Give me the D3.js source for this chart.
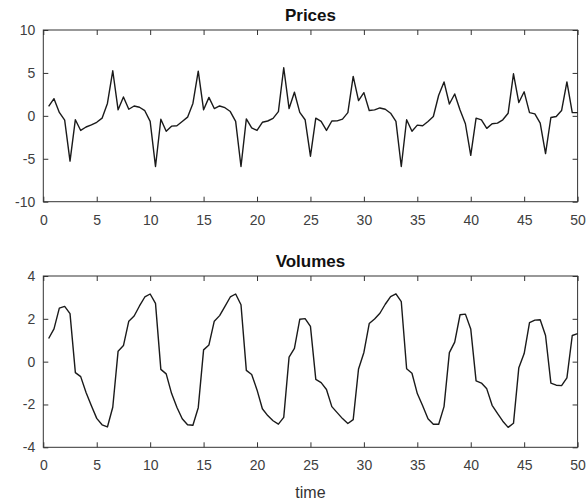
<!DOCTYPE html>
<html>
<head>
<meta charset="utf-8">
<script src="https://cdn.jsdelivr.net/npm/d3@7"></script>
<style>
  html, body { margin: 0; padding: 0; background: #fff; }
  svg { display: block; }
  .tick text { font-family: "Liberation Sans", Arial, Helvetica, sans-serif; font-size: 14px; fill: #404040; }
  .tick line { stroke: #333; }
  .title { font-family: "Liberation Sans", Arial, Helvetica, sans-serif; font-size: 17px; font-weight: bold; fill: #111; }
  .xlabel { font-family: "Liberation Sans", Arial, Helvetica, sans-serif; font-size: 16px; fill: #333; }
</style>
</head>
<body>
<svg id="chart" width="586" height="501"></svg>
<script>
// Sample times shared by both series
const time = [
  0.5, 1, 1.5, 2, 2.5, 3, 3.5, 4, 4.5, 5, 5.5, 6, 6.5, 7, 7.5, 8, 8.5, 9, 9.5, 10,
  10.5, 11, 11.5, 12, 12.5, 13, 13.5, 14, 14.5, 15, 15.5, 16, 16.5, 17, 17.5, 18, 18.5, 19, 19.5, 20,
  20.5, 21, 21.5, 22, 22.5, 23, 23.5, 24, 24.5, 25, 25.5, 26, 26.5, 27, 27.5, 28, 28.5, 29, 29.5, 30,
  30.5, 31, 31.5, 32, 32.5, 33, 33.5, 34, 34.5, 35, 35.5, 36, 36.5, 37, 37.5, 38, 38.5, 39, 39.5, 40,
  40.5, 41, 41.5, 42, 42.5, 43, 43.5, 44, 44.5, 45, 45.5, 46, 46.5, 47, 47.5, 48, 48.5, 49, 49.5, 50
];

const prices = [
  1.1, 2.0, 0.4, -0.5, -5.27, -0.45, -1.7, -1.3, -1.05, -0.75,
  -0.27, 1.45, 5.25, 0.7, 2.2, 0.77, 1.15, 1.0, 0.6, -0.65,
  -5.9, -0.4, -1.8, -1.2, -1.15, -0.65, -0.15, 1.45, 5.2, 0.7,
  2.15, 0.85, 1.15, 0.95, 0.5, -0.65, -5.9, -0.35, -1.4, -1.7,
  -0.75, -0.6, -0.3, 0.5, 5.6, 0.85, 2.75, 0.4, -0.45, -4.7,
  -0.27, -0.65, -1.7, -0.6, -0.58, -0.38, 0.38, 4.6, 1.77, 2.7,
  0.62, 0.69, 0.92, 0.77, 0.31, -0.65, -5.9, -0.45, -1.8, -1.08,
  -1.15, -0.65, -0.08, 2.4, 3.95, 1.38, 2.55, 0.69, -0.92, -4.6,
  -0.27, -0.46, -1.46, -0.92, -0.85, -0.46, 0.31, 4.9, 1.55, 2.8,
  0.38, 0.23, -0.85, -4.4, -0.19, -0.08, 0.62, 3.95, 0.38, 0.38
];

const volumes = [
  1.08, 1.53, 2.5, 2.58, 2.24, -0.51, -0.7, -1.44, -2.06, -2.65,
  -2.95, -3.05, -2.13, 0.49, 0.75, 1.89, 2.13, 2.6, 3.02, 3.16,
  2.72, -0.36, -0.57, -1.48, -2.13, -2.67, -2.95, -2.97, -2.15, 0.55,
  0.78, 1.89, 2.15, 2.58, 3.02, 3.16, 2.66, -0.41, -0.6, -1.32,
  -2.2, -2.52, -2.76, -2.92, -2.6, 0.21, 0.62, 1.98, 2.01, 1.65,
  -0.83, -0.98, -1.3, -2.1, -2.38, -2.66, -2.89, -2.71, -0.34, 0.43,
  1.78, 1.99, 2.26, 2.68, 3.04, 3.17, 2.8, -0.33, -0.54, -1.49,
  -2.06, -2.67, -2.92, -2.92, -2.1, 0.42, 0.91, 2.19, 2.22, 1.53,
  -0.9, -1.0, -1.27, -2.04, -2.42, -2.78, -3.07, -2.88, -0.28, 0.38,
  1.82, 1.94, 1.96, 1.22, -1.0, -1.1, -1.12, -0.76, 1.22, 1.31
];

const xTicks = [0, 5, 10, 15, 20, 25, 30, 35, 40, 45, 50];
const priceTicks = [-10, -5, 0, 5, 10];
const volumeTicks = [-4, -2, 0, 2, 4];

const svg = d3.select("#chart");
const left = 43.3, right = 577.6;
const x = d3.scaleLinear().domain([0, 50]).range([left, right]);
const tickLen = 5;
// plain hyphen-minus for negative tick labels
const plain = d => String(d);

function panel(top, bottom, values, yDomain, yTicks, title) {
  const y = d3.scaleLinear().domain(yDomain).range([bottom, top]);
  const g = svg.append("g");

  // bottom axis with labels, inward ticks
  g.append("g")
    .attr("transform", `translate(0,${bottom})`)
    .call(d3.axisBottom(x).tickValues(xTicks).tickFormat(plain).tickSizeInner(-tickLen).tickSizeOuter(0).tickPadding(13))
    .call(a => a.select(".domain").remove());
  // top axis ticks only
  g.append("g")
    .attr("transform", `translate(0,${top})`)
    .call(d3.axisTop(x).tickValues(xTicks).tickSizeInner(-tickLen).tickSizeOuter(0).tickFormat(""))
    .call(a => a.select(".domain").remove());
  // left axis with labels
  g.append("g")
    .attr("transform", `translate(${left},0)`)
    .call(d3.axisLeft(y).tickValues(yTicks).tickFormat(plain).tickSizeInner(-tickLen).tickSizeOuter(0).tickPadding(8))
    .call(a => a.select(".domain").remove());
  // right axis ticks only
  g.append("g")
    .attr("transform", `translate(${right},0)`)
    .call(d3.axisRight(y).tickValues(yTicks).tickSizeInner(-tickLen).tickSizeOuter(0).tickFormat(""))
    .call(a => a.select(".domain").remove());

  g.selectAll(".tick text").attr("font-family", null).attr("font-size", null);

  // box
  g.append("rect")
    .attr("x", left).attr("y", top)
    .attr("width", right - left).attr("height", bottom - top)
    .attr("fill", "none").attr("stroke", "#333").attr("stroke-width", 1);

  const line = d3.line().x((d, i) => x(time[i])).y(d => y(d));
  g.append("path")
    .datum(values)
    .attr("fill", "none")
    .attr("stroke", "#1a1a1a")
    .attr("stroke-width", 1.4)
    .attr("stroke-linejoin", "round")
    .attr("d", line);

  g.append("text")
    .attr("class", "title")
    .attr("x", (left + right) / 2)
    .attr("y", top - 9)
    .attr("text-anchor", "middle")
    .text(title);
}

panel(30, 201.7, prices, [-10, 10], priceTicks, "Prices");
panel(276, 447.3, volumes, [-4, 4], volumeTicks, "Volumes");

svg.append("text")
  .attr("class", "xlabel")
  .attr("x", (left + right) / 2)
  .attr("y", 498)
  .attr("text-anchor", "middle")
  .text("time");
</script>
</body>
</html>
